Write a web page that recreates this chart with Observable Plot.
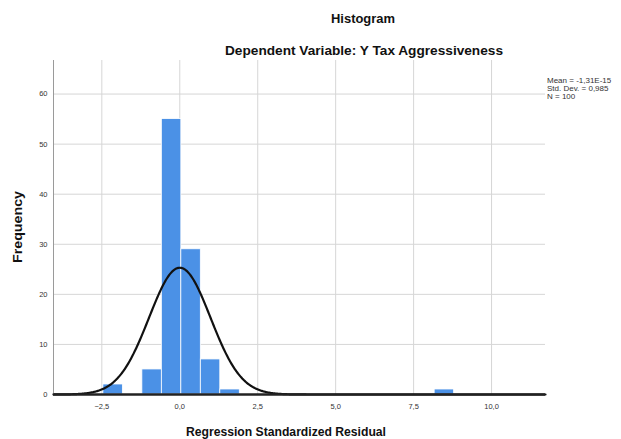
<!DOCTYPE html>
<html>
<head>
<meta charset="utf-8">
<script src="https://cdn.jsdelivr.net/npm/d3@7"></script>
<script src="https://cdn.jsdelivr.net/npm/@observablehq/plot@0.6"></script>
<style>
  html, body { margin: 0; padding: 0; background: #fff; }
  #chart svg { display: block; }
</style>
</head>
<body>
<div id="chart"></div>
<script>
// ---- data ----
const binStarts = [-2.45, -1.2, -0.575, 0.05, 0.675, 1.3, 8.175];
const binWidth = 0.625;
const counts = [2, 5, 55, 29, 7, 1, 1];
const mean = -1.31e-15;
const stdDev = 0.985;
const nObs = 100;
const xTicks = [-2.5, 0, 2.5, 5, 7.5, 10];
const yTicks = [0, 10, 20, 30, 40, 50, 60];
const titleText = "Histogram";
const subtitleText = "Dependent Variable: Y Tax Aggressiveness";
const xLabel = "Regression Standardized Residual";
const yLabel = "Frequency";
const legendLines = ["Mean = -1,31E-15", "Std. Dev. = 0,985", "N = 100"];

const xDomain = [-4.05, 11.73];
const yDomain = [0, 66.7];

const bins = binStarts.map((s, i) => ({x1: s, x2: s + binWidth, count: counts[i]}));

// fitted normal curve from the stated mean / std. dev. / N
const curve = d3.range(xDomain[0], xDomain[1] + 0.001, 0.02).map(x => ({
  x,
  y: nObs * binWidth * Math.exp(-0.5 * ((x - mean) / stdDev) ** 2) / (stdDev * Math.sqrt(2 * Math.PI))
}));

const fmt = d => d3.format(".1f")(d).replace(".", ",");

const W = 621, H = 439;
const chart = Plot.plot({
  width: W,
  height: H,
  marginLeft: 53,
  marginRight: 76,
  marginTop: 60,
  marginBottom: 45,
  style: {fontFamily: "Liberation Sans, Arial, sans-serif", background: "#fff"},
  x: {domain: xDomain},
  y: {domain: yDomain},
  marks: [
    Plot.gridX(xTicks, {stroke: "#d6d6d6", strokeOpacity: 1, strokeWidth: 1}),
    Plot.gridY(yTicks.filter(d => d > 0), {stroke: "#d6d6d6", strokeOpacity: 1, strokeWidth: 1}),
    Plot.rectY(bins, {x1: "x1", x2: "x2", y: "count", fill: "#4b91e6", stroke: "#ffffff", strokeWidth: 0.8}),
    Plot.line(curve, {x: "x", y: "y", stroke: "#111", strokeWidth: 2.2}),
    Plot.ruleX([xDomain[0]], {stroke: "#9a9a9a", strokeWidth: 1}),
    Plot.ruleY([0], {stroke: "#222", strokeWidth: 2.5}),
    Plot.axisX({ticks: xTicks, tickSize: 0, tickPadding: 9, tickFormat: fmt, fontSize: 7.5, fill: "#333", label: null}),
    Plot.axisY({ticks: yTicks, tickSize: 0, tickPadding: 6, fontSize: 7.5, fill: "#333", label: null})
  ]
});

const svg = d3.select(chart);
const addText = (txt, x, y, opts = {}) => {
  const t = svg.append("text")
    .attr("x", x).attr("y", y)
    .attr("text-anchor", opts.anchor || "middle")
    .attr("font-family", "Liberation Sans, Arial, sans-serif")
    .attr("font-size", opts.size || 12)
    .attr("font-weight", opts.weight || "bold")
    .attr("fill", opts.fill || "#111")
    .text(txt);
  if (opts.len) t.attr("textLength", opts.len).attr("lengthAdjust", "spacingAndGlyphs");
  if (opts.rotate) t.attr("transform", `rotate(-90 ${x} ${y})`);
  return t;
};
addText(titleText, 363, 23, {size: 12.5, len: 64});
addText(subtitleText, 364, 55, {size: 12.5, len: 278});
addText(xLabel, 286, 436, {size: 12, len: 200});
addText(yLabel, 22, 227, {size: 12, rotate: true, len: 72});
legendLines.forEach((l, i) => addText(l, 547, 83 + i * 8, {anchor: "start", size: 8, weight: "normal", fill: "#333"}));

document.getElementById("chart").appendChild(chart);
</script>
</body>
</html>
